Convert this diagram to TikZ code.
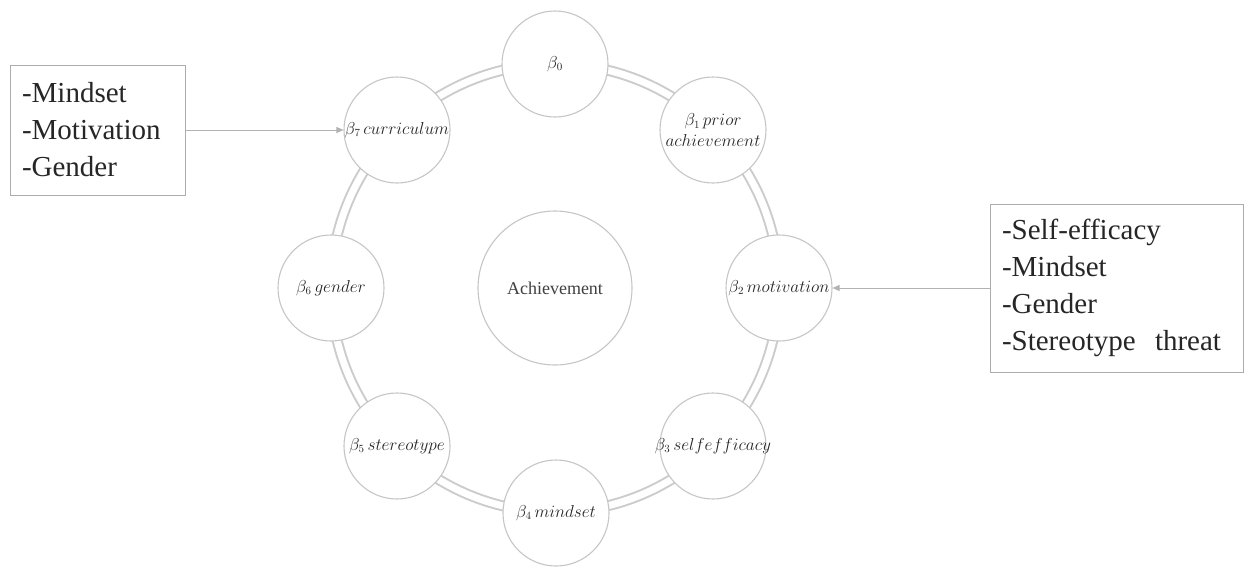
\documentclass[tikz,border=0pt]{standalone}
\usepackage{fontspec}
\setmainfont{Liberation Serif}
\newfontfamily\boxserif{Liberation Serif}
\usetikzlibrary{arrows.meta}
\begin{document}
\begin{tikzpicture}[x=1pt,y=-1pt,
  bub/.style={circle, draw=gray!45, line width=1.1pt, fill=white, minimum size=106pt, inner sep=0pt},
  lab/.style={font=\fontsize{16}{19}\selectfont, text=black!85, align=center},
  hub/.style={circle, draw=gray!45, line width=1.1pt, fill=white, minimum size=154pt, inner sep=0pt, font=\boxserif\fontsize{18}{21}\selectfont, text=black!75},
  listbox/.style={draw=gray!65, line width=0.9pt, fill=white, align=left, font=\boxserif\fontsize{29}{37}\selectfont, text=black!85, inner xsep=12pt},
  link/.style={draw=gray!60, line width=1pt, -{Triangle[length=7pt,width=6pt]}},
  ringout/.style={draw=gray!40, line width=11pt},
  ringin/.style={draw=white, line width=7pt}
]
\useasboundingbox (0,0) rectangle (1245,568);
\coordinate (c) at (555,288);
\draw[ringout] (c) circle[radius=224];
\draw[ringin] (c) circle[radius=224];
\node[hub] (ach) at (c) {Achievement};
\node[bub, label={[lab]center:$\beta_0$}] (b0) at (555,64) {};
\node[bub, label={[lab]center:$\beta_1\,prior$\\[2pt]$achievement$}] (b1) at (713,130) {};
\node[bub, label={[lab]center:$\beta_2\,motivation$}] (b2) at (779,288) {};
\node[bub, label={[lab]center:$\beta_3\,self efficacy$}] (b3) at (713,446) {};
\node[bub, label={[lab]center:$\beta_4\,mindset$}] (b4) at (556,513) {};
\node[bub, label={[lab]center:$\beta_5\,stereotype$}] (b5) at (397,446) {};
\node[bub, label={[lab]center:$\beta_6\,gender$}] (b6) at (331,288) {};
\node[bub, label={[lab]center:$\beta_7\,curriculum$}] (b7) at (397,130) {};
\node[listbox, text width=151pt, minimum height=130pt] (lbox) at (97.5,130) {-Mindset\\-Motivation\\-Gender};
\node[listbox, text width=229pt, minimum height=168pt] (rbox) at (1116.5,288) {-Self-efficacy\\-Mindset\\-Gender\\-Stereotype\ \ threat};
\draw[link] (lbox.east) -- (b7.west);
\draw[link] (rbox.west) -- (b2.east);
\end{tikzpicture}
\end{document}
